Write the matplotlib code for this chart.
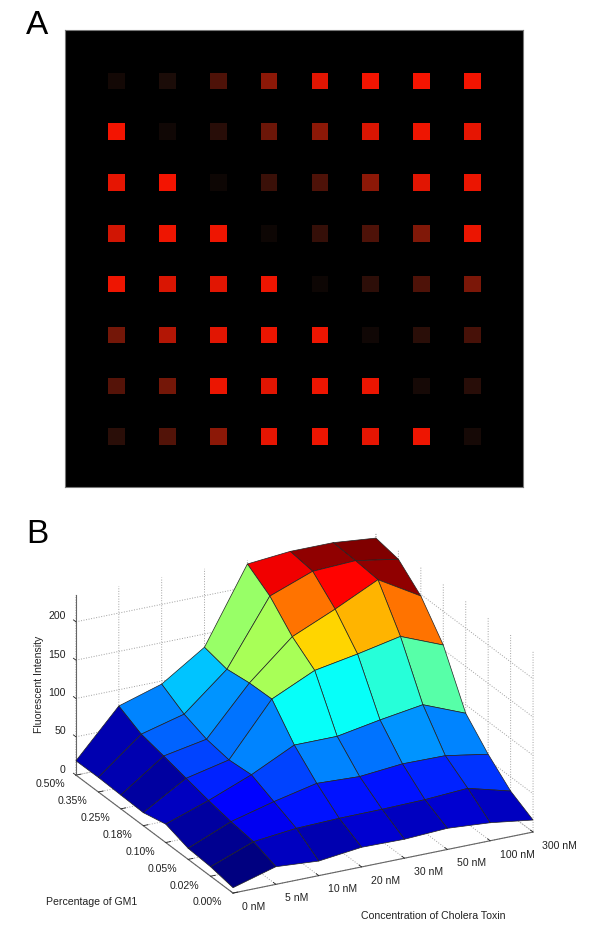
import numpy as np
from matplotlib import pyplot as plt
from matplotlib.colors import LinearSegmentedColormap, Normalize
from matplotlib.transforms import ScaledTranslation

plt.rcParams['font.family'] = ['Liberation Sans', 'DejaVu Sans']

# panel A: spot brightness, top row first
spots = np.array([
    [0.07, 0.10, 0.30, 0.55, 0.88, 0.95, 0.96, 0.95],
    [0.95, 0.06, 0.15, 0.42, 0.55, 0.85, 0.93, 0.90],
    [0.90, 0.95, 0.05, 0.22, 0.30, 0.55, 0.88, 0.92],
    [0.82, 0.93, 0.93, 0.05, 0.20, 0.30, 0.50, 0.92],
    [0.93, 0.85, 0.88, 0.93, 0.05, 0.17, 0.30, 0.48],
    [0.45, 0.70, 0.88, 0.92, 0.93, 0.06, 0.16, 0.27],
    [0.33, 0.45, 0.92, 0.88, 0.93, 0.92, 0.08, 0.15],
    [0.16, 0.32, 0.55, 0.90, 0.93, 0.90, 0.93, 0.08],
])

# panel B: rows are GM1 from 0.00% up to 0.50%, columns are toxin concentration
intensity = np.array([
    [7, 23, 19, 25.6, 24.7, 27.6, 23.5, 15.7],
    [12.3, 33.6, 39.7, 41.4, 41.8, 43, 46.4, 31.5],
    [14.4, 37.8, 52.5, 65, 62.5, 67.7, 67, 57.5],
    [24, 43.4, 65.6, 93, 93, 103, 111.5, 89],
    [17, 50.4, 63, 131, 157, 167, 178.6, 156],
    [18, 57.5, 68, 130, 179, 203.6, 230.6, 198],
    [19, 64, 78.7, 126, 210, 231, 233.5, 224],
    [18.7, 78.8, 96, 132.8, 229.9, 235, 235, 229.6],
])
toxin_labels = ['0 nM', '5 nM', '10 nM', '20 nM', '30 nM', '50 nM', '100 nM', '300 nM']
gm1_labels = ['0.00%', '0.02%', '0.05%', '0.10%', '0.18%', '0.25%', '0.35%', '0.50%']
z_ticks = [0, 50, 100, 150, 200]

W, H = 600, 939
fig = plt.figure(figsize=(W / 100, H / 100), dpi=100, facecolor='white')

# A
ax_a = fig.add_axes([65.3 / W, 1 - 487 / H, 457.4 / W, 457 / H])
ax_a.set_facecolor('black')
reds = LinearSegmentedColormap.from_list(
    'spot', [(0, 'black'), (0.1, '#1c0c08'), (0.5, '#801808'), (1, '#ff1400')])
cols, rows = np.meshgrid(np.arange(8), np.arange(8))
ax_a.scatter(cols.ravel(), rows.ravel(), c=spots.ravel(), cmap=reds, vmin=0, vmax=1,
             marker='s', s=142, linewidths=0)
ax_a.set_xlim(-1.01, 7.99)
ax_a.set_ylim(7.99, -1.0)
ax_a.set_xticks([])
ax_a.set_yticks([])
for spine in ax_a.spines.values():
    spine.set_color('#777777')
    spine.set_linewidth(0.8)

# B
side = 503
ax_b = fig.add_axes([46.2 / W, 1 - 971.8 / H, side / W, side / H], projection='3d',
                    proj_type='ortho', facecolor='none')
ax_b.view_init(elev=23, azim=-117.5)
ax_b.set_box_aspect((338, 340, 195.6))

X, Y = np.meshgrid(np.arange(8), np.arange(8))
# MATLAB's jet, matplotlib's own one has different break points
jet = LinearSegmentedColormap.from_list(
    'mjet', [(0, (0, 0, 0.5)), (0.125, (0, 0, 1)), (0.375, (0, 1, 1)),
             (0.625, (1, 1, 0)), (0.875, (1, 0, 0)), (1, (0.5, 0, 0))], N=64)
norm = Normalize(intensity.min(), intensity.max())
ax_b.plot_surface(X, Y, intensity, rstride=1, cstride=1, facecolors=jet(norm(intensity)),
                  shade=False, edgecolor='#222222', linewidth=0.5, antialiased=True)

ax_b.set_xlim(0, 7, view_margin=0)
ax_b.set_ylim(0, 7, view_margin=0)
ax_b.set_zlim(0, 235, view_margin=0)
ax_b.set_xticks(np.arange(8), toxin_labels)
ax_b.set_yticks(np.arange(8), gm1_labels)
ax_b.set_zticks(z_ticks)
ax_b.tick_params(labelsize=7.6, colors='#222222', pad=2)
ax_b.zaxis._get_tickdir = lambda pos: 1

for axis in (ax_b.xaxis, ax_b.yaxis, ax_b.zaxis):
    axis.pane.set_facecolor('white')
    axis.pane.set_edgecolor('none')
    axis.line.set_color('#666666')
    axis.line.set_linewidth(0.8)
    axis._axinfo['grid'].update(color='#a0a0a0', linestyle=':', linewidth=0.7)
    axis._axinfo['tick'].update(color='#666666', inward_factor=0, outward_factor=0.2,
                                linewidth={True: 0.6, False: 0.6})


def nudge(axis, ha, dx, dy):
    # Axis3D resets the label transform on every draw, so get_transform is replaced
    shifted = ax_b.transData + ScaledTranslation(dx / 100, dy / 100, fig.dpi_scale_trans)
    for tick in axis.get_major_ticks():
        tick.label1.set_ha(ha)
        tick.label1.get_transform = lambda: shifted


nudge(ax_b.xaxis, 'left', 1, 7)
nudge(ax_b.yaxis, 'right', 5, 8.5)
nudge(ax_b.zaxis, 'right', 14, 7.5)

fig.text(433 / W, 1 - 916 / H, 'Concentration of Cholera Toxin', fontsize=7.6,
         ha='center', va='center', color='#222222')
fig.text(92 / W, 1 - 902 / H, 'Percentage of GM1', fontsize=7.6,
         ha='center', va='center', color='#222222')
fig.text(39 / W, 1 - 684 / H, 'Fluorescent Intensity', fontsize=7.6, rotation=90,
         ha='center', va='center', color='#222222')

fig.text(37 / W, 1 - 34 / H, 'A', fontsize=24, ha='center', va='baseline', color='black')
fig.text(37.5 / W, 1 - 543 / H, 'B', fontsize=24, ha='center', va='baseline', color='black')

fig.savefig('out.png', dpi=100)
